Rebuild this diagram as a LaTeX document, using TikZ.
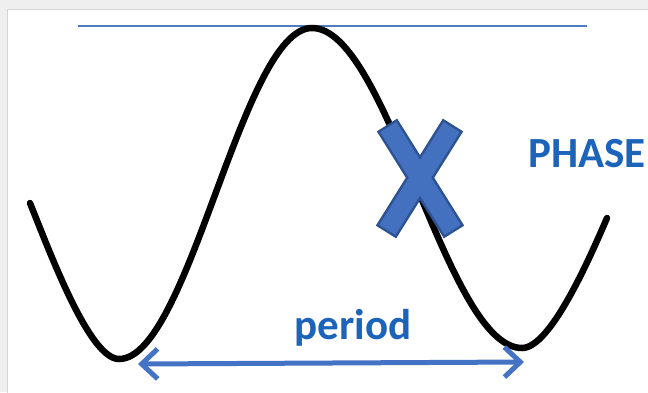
\documentclass[tikz,border=0pt]{standalone}
\usepackage{fontspec}
\setmainfont{Carlito}
\usetikzlibrary{arrows.meta}
\definecolor{frame}{HTML}{EFEFEF}
\definecolor{frameline}{HTML}{D6D6D6}
\definecolor{toplineblue}{HTML}{4F7BC4}
\definecolor{xfill}{HTML}{4470C0}
\definecolor{xedge}{HTML}{2C5292}
\definecolor{textblue}{HTML}{1C63BA}
\definecolor{arrowblue}{HTML}{4472C4}
\tikzset{
  wave/.style={line width=6.5pt, black, line cap=round},
  lbl/.style={font=\bfseries\fontsize{43}{43}\selectfont, text=textblue, inner sep=0pt},
  xedgeline/.style={line width=24pt, xedge, line cap=butt},
  xfillline/.style={line width=19pt, xfill, line cap=butt, shorten <=2.5pt, shorten >=2.5pt},
  periodarrow/.style={line width=5pt, arrowblue, {Straight Barb[length=16pt,width=30pt,line width=5pt]}-{Straight Barb[length=16pt,width=30pt,line width=5pt]}}
}
\begin{document}
\begin{tikzpicture}[x=1pt,y=-1pt]
\useasboundingbox (0,0) rectangle (648,392);
\fill[frame] (0,0) rectangle (648,392);
\filldraw[fill=white, draw=frameline, line width=1pt] (7.5,9.5) rectangle (660,400);
% top line
\coordinate (tl) at (78,26);
\coordinate (tr) at (587,26);
\draw[toplineblue, line width=2pt] (tl) -- (tr);
% wave
\coordinate (w0) at (30,203);
\coordinate (m1) at (119,359);
\coordinate (pk) at (312,28);
\coordinate (m2) at (522,348);
\coordinate (w1) at (607,218);
\draw[wave] (w0) .. controls (52,258) and (90,359) .. (m1)
  .. controls (189,359) and (242,28) .. (pk)
  .. controls (388,28) and (446,348) .. (m2)
  .. controls (550,348) and (588,262) .. (w1);
% X mark
\coordinate (xa1) at (387,125);
\coordinate (xb1) at (454,232);
\coordinate (xa2) at (453,125);
\coordinate (xb2) at (386,232);
\draw[xedgeline] (xa1) -- (xb1);
\draw[xedgeline] (xa2) -- (xb2);
\draw[xfillline] (xa1) -- (xb1);
\draw[xfillline] (xa2) -- (xb2);
% labels
\node[lbl, anchor=base west] (phase) at (528,167) {PHASE};
\node[lbl, anchor=base] (period) at (353,339) {period};
% arrow
\coordinate (al) at (138,364);
\coordinate (ar) at (524,362);
\draw[periodarrow] (al) -- (ar);
\end{tikzpicture}
\end{document}
